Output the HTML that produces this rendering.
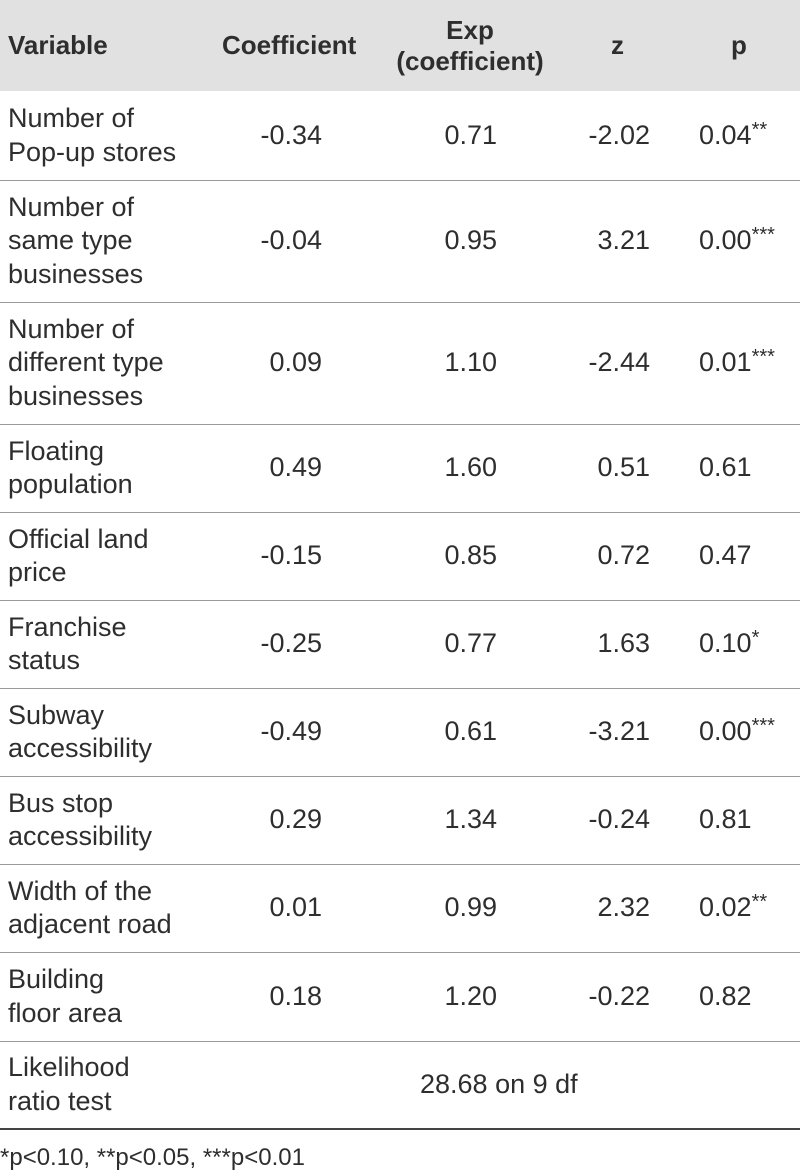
<!DOCTYPE html>
<html><head><style>
body{margin:0;width:800px;height:1172px;background:#fff;position:relative;overflow:hidden;font-family:"Liberation Sans",sans-serif;color:#2e2e2e;}
.hdr{position:absolute;left:0;top:0;width:800px;height:91px;background:#e1e1e1;}
.line{position:absolute;left:0;width:800px;height:1px;background:#9a9a9a;}
.row{position:absolute;left:0;width:800px;display:flex;align-items:center;}
.c{position:absolute;font-size:27px;line-height:33.5px;white-space:nowrap;}
.v{left:8px;}
.co{right:478px;text-align:right;}
.ex{right:303px;text-align:right;}
.z{right:150px;text-align:right;}
.p{left:699px;}
.h{font-weight:bold;font-size:26px;line-height:31px;text-align:center;}
sup{font-size:20px;vertical-align:top;line-height:22px;}
</style></head><body>
<div class="hdr"></div>
<div class="row" style="top:0;height:91px">
<div class="c h" style="left:8px">Variable</div>
<div class="c h" style="left:222px">Coefficient</div>
<div class="c h" style="left:380px;width:180px">Exp<br>(coefficient)</div>
<div class="c h" style="left:611px">z</div>
<div class="c h" style="left:731px">p</div>
</div>
<div class="line" style="top:180px"></div>
<div class="line" style="top:302px"></div>
<div class="line" style="top:424px"></div>
<div class="line" style="top:512px"></div>
<div class="line" style="top:600px"></div>
<div class="line" style="top:688px"></div>
<div class="line" style="top:776px"></div>
<div class="line" style="top:864px"></div>
<div class="line" style="top:952px"></div>
<div class="line" style="top:1041px"></div>
<div class="line" style="top:1128px;height:2px;background:#444"></div>

<div class="row" style="top:91px;height:89px"><div class="c v">Number of<br>Pop-up stores</div><div class="c co">-0.34</div><div class="c ex">0.71</div><div class="c z">-2.02</div><div class="c p">0.04<sup>**</sup></div></div>
<div class="row" style="top:180px;height:122px"><div class="c v">Number of<br>same type<br>businesses</div><div class="c co">-0.04</div><div class="c ex">0.95</div><div class="c z">3.21</div><div class="c p">0.00<sup>***</sup></div></div>
<div class="row" style="top:302px;height:122px"><div class="c v">Number of<br>different type<br>businesses</div><div class="c co">0.09</div><div class="c ex">1.10</div><div class="c z">-2.44</div><div class="c p">0.01<sup>***</sup></div></div>
<div class="row" style="top:424px;height:88px"><div class="c v">Floating<br>population</div><div class="c co">0.49</div><div class="c ex">1.60</div><div class="c z">0.51</div><div class="c p">0.61</div></div>
<div class="row" style="top:512px;height:88px"><div class="c v">Official land<br>price</div><div class="c co">-0.15</div><div class="c ex">0.85</div><div class="c z">0.72</div><div class="c p">0.47</div></div>
<div class="row" style="top:600px;height:88px"><div class="c v">Franchise<br>status</div><div class="c co">-0.25</div><div class="c ex">0.77</div><div class="c z">1.63</div><div class="c p">0.10<sup>*</sup></div></div>
<div class="row" style="top:688px;height:88px"><div class="c v">Subway<br>accessibility</div><div class="c co">-0.49</div><div class="c ex">0.61</div><div class="c z">-3.21</div><div class="c p">0.00<sup>***</sup></div></div>
<div class="row" style="top:776px;height:88px"><div class="c v">Bus stop<br>accessibility</div><div class="c co">0.29</div><div class="c ex">1.34</div><div class="c z">-0.24</div><div class="c p">0.81</div></div>
<div class="row" style="top:864px;height:88px"><div class="c v">Width of the<br>adjacent road</div><div class="c co">0.01</div><div class="c ex">0.99</div><div class="c z">2.32</div><div class="c p">0.02<sup>**</sup></div></div>
<div class="row" style="top:952px;height:89px"><div class="c v">Building<br>floor area</div><div class="c co">0.18</div><div class="c ex">1.20</div><div class="c z">-0.22</div><div class="c p">0.82</div></div>
<div class="row" style="top:1041px;height:87px"><div class="c v">Likelihood<br>ratio test</div><div class="c" style="left:420px">28.68 on 9 df</div></div>
<div class="c" style="left:0;top:1143px;font-size:24px;line-height:30px">*p&lt;0.10, **p&lt;0.05, ***p&lt;0.01</div>
</body></html>
